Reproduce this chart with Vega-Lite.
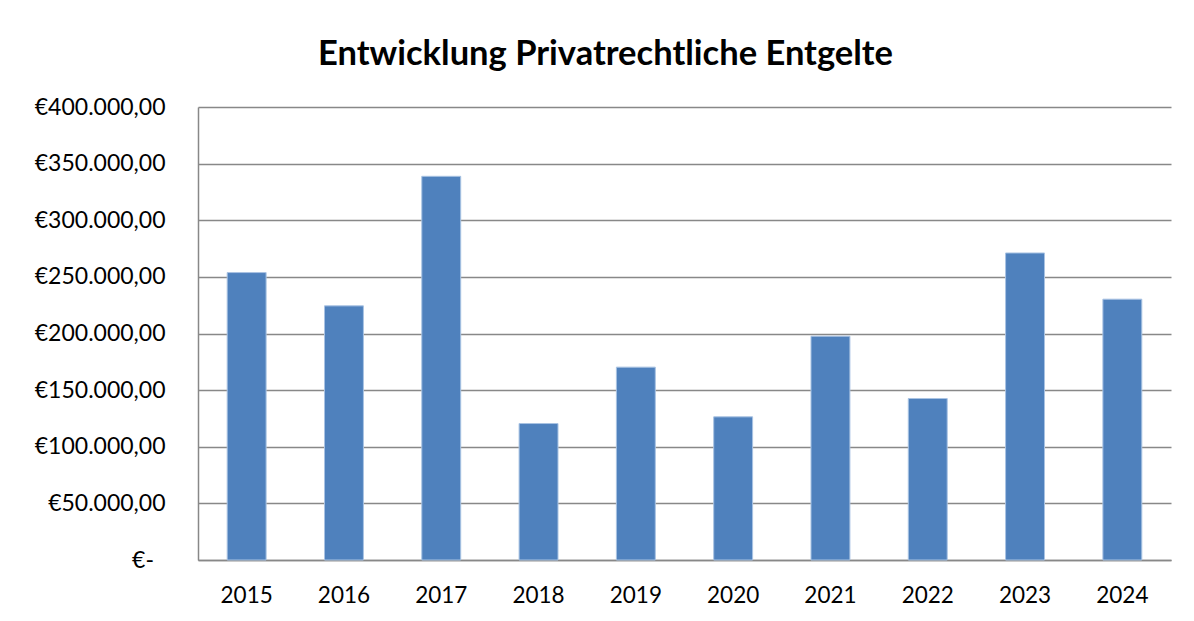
{
  "$schema": "https://vega.github.io/schema/vega-lite/v6.json",
  "autosize": {"type": "none"},
  "width": 973,
  "height": 453,
  "padding": {"left": 198, "top": 107, "right": 23, "bottom": 61},
  "background": "white",
  "title": {
    "text": "Entwicklung Privatrechtliche Entgelte",
    "anchor": "middle",
    "frame": "group",
    "dx": -79,
    "offset": 24,
    "font": "Lato",
    "fontSize": 34.5,
    "fontWeight": "bold",
    "color": "black"
  },
  "data": {
    "values": [
      {"Jahr": "2015", "Betrag": 253800},
      {"Jahr": "2016", "Betrag": 224400},
      {"Jahr": "2017", "Betrag": 338800},
      {"Jahr": "2018", "Betrag": 120500},
      {"Jahr": "2019", "Betrag": 170300},
      {"Jahr": "2020", "Betrag": 126400},
      {"Jahr": "2021", "Betrag": 197600},
      {"Jahr": "2022", "Betrag": 142600},
      {"Jahr": "2023", "Betrag": 271100},
      {"Jahr": "2024", "Betrag": 230300}
    ]
  },
  "mark": {"type": "bar", "color": "#4F81BD", "stroke": "#A9C3E3", "strokeWidth": 1},
  "encoding": {
    "x": {
      "field": "Jahr",
      "type": "ordinal",
      "title": null,
      "scale": {"paddingInner": 0.6, "paddingOuter": 0.3},
      "axis": {
        "labelAngle": 0,
        "labelFont": "Lato",
        "labelFontSize": 22.5,
        "labelColor": "black",
        "labelPadding": 24,
        "ticks": false,
        "domainColor": "#888888",
        "domainWidth": 1.5
      }
    },
    "y": {
      "field": "Betrag",
      "type": "quantitative",
      "title": null,
      "scale": {"domain": [0, 400000], "nice": false},
      "axis": {
        "values": [0, 50000, 100000, 150000, 200000, 250000, 300000, 350000, 400000],
        "labelExpr": "datum.value == 0 ? '€-\u2002\u200b' : '€' + format(datum.value / 1000, 'd') + '.000,00'",
        "labelFont": "Lato",
        "labelFontSize": 23,
        "labelColor": "black",
        "labelPadding": 33,
        "ticks": false,
        "grid": true,
        "gridColor": "#888888",
        "gridWidth": 1.5,
        "domainColor": "#888888",
        "domainWidth": 1.5
      }
    }
  },
  "config": {
    "view": {"stroke": null}
  }
}
